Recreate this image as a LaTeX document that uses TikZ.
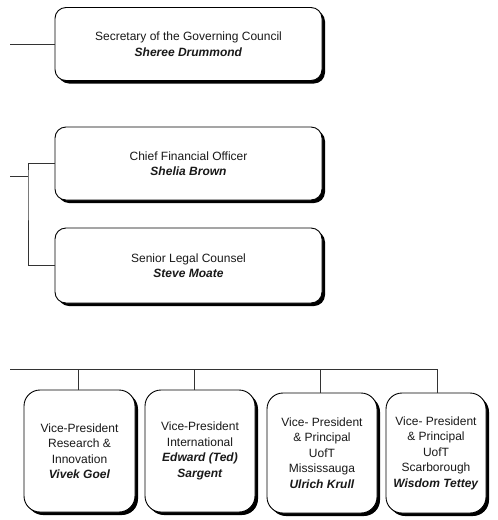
\documentclass[tikz,border=0pt]{standalone}
\usepackage{fontspec}
\setmainfont{Liberation Sans}
\usetikzlibrary{shadows}
\begin{document}
\begin{tikzpicture}[x=1pt,y=-1pt,
  orgbox/.style={draw=black, line width=0.9pt, fill=white, rounded corners=11pt,
    align=center, inner sep=2pt, text=black!90,
    font=\fontsize{12}{15.5}\selectfont,
    drop shadow={shadow xshift=3pt, shadow yshift=-3pt, fill=black, opacity=1}},
  vpbox/.style={orgbox, rounded corners=16pt},
  link/.style={draw=black!80, line width=0.8pt}]
\useasboundingbox (0,0) rectangle (498,520);

\node[orgbox, minimum width=267pt, minimum height=73pt] (sec) at (188.5,44)
  {Secretary of the Governing Council\\\textbf{\textit{Sheree Drummond}}};
\node[orgbox, minimum width=267pt, minimum height=73pt] (cfo) at (188.5,163.5)
  {Chief Financial Officer\\\textbf{\textit{Shelia Brown}}};
\node[orgbox, minimum width=267pt, minimum height=75pt] (slc) at (188.5,265.5)
  {Senior Legal Counsel\\\textbf{\textit{Steve Moate}}};

\node[vpbox, minimum width=111pt, minimum height=122pt] (vp1) at (79.5,451)
  {Vice-President\\Research \&\\Innovation\\\textbf{\textit{Vivek Goel}}};
\node[vpbox, minimum width=110pt, minimum height=122pt] (vp2) at (200,451)
  {Vice-President\\International\\\textbf{\textit{Edward (Ted)}}\\\textbf{\textit{Sargent}}};
\node[vpbox, minimum width=110pt, minimum height=120pt] (vp3) at (322,453)
  {Vice- President\\\& Principal\\UofT\\Mississauga\\\textbf{\textit{Ulrich Krull}}};
\node[vpbox, minimum width=100pt, minimum height=120pt] (vp4) at (436,453)
  {Vice- President\\\& Principal\\UofT\\Scarborough\\\textbf{\textit{Wisdom Tettey}}};

% top connector
\coordinate (s0) at (10,44);
\draw[link] (s0) -- (sec.west);

% CFO / legal connector
\coordinate (c0) at (10,176);
\coordinate (cj) at (28,176);
\draw[link] (c0) -- (cj);
\draw[link] (cfo.west) -| (cj) |- (slc.west);

% bottom bus
\coordinate (b0) at (10,369);
\coordinate (d1) at (78,369);
\coordinate (d2) at (194,369);
\coordinate (d3) at (320,369);
\coordinate (d4) at (437,369);
\draw[link] (b0) -- (d4);
\draw[link] (d1) -- (d1 |- vp1.north);
\draw[link] (d2) -- (d2 |- vp2.north);
\draw[link] (d3) -- (d3 |- vp3.north);
\draw[link] (d4) -- (d4 |- vp4.north);
\end{tikzpicture}
\end{document}
